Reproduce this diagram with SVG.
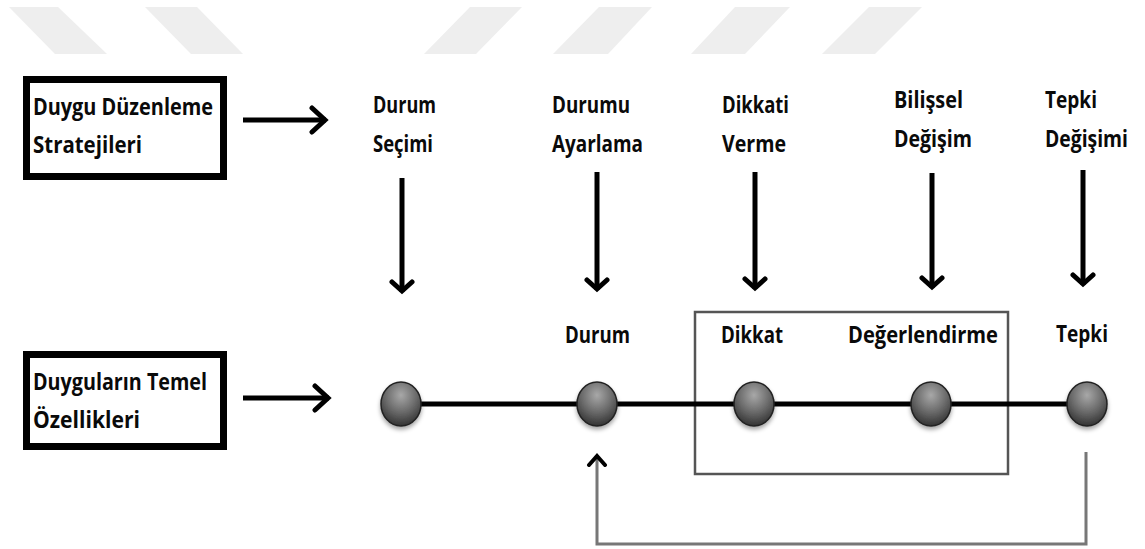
<svg xmlns="http://www.w3.org/2000/svg" width="1145" height="549" viewBox="0 0 1145 549">
<style>
.t{font-family:"Open Sans","Liberation Sans",sans-serif;font-weight:bold;font-size:24px;fill:#0a0a0a}
.wm{fill:#eeeeee}
.box{fill:#fff;stroke:#000;stroke-width:7}
.ar{fill:none;stroke:#000;stroke-width:5}
.fb{fill:none;stroke:#777;stroke-width:3}
.dot{fill:url(#g);stroke:#222;stroke-width:1.5;filter:url(#sh)}
</style>
<defs>
<radialGradient id="g" cx="50%" cy="30%" r="75%">
<stop offset="0" stop-color="#a8a8a8"/>
<stop offset="0.55" stop-color="#666"/>
<stop offset="1" stop-color="#2a2a2a"/>
</radialGradient>
<filter id="sh" x="-30%" y="-30%" width="160%" height="170%">
<feDropShadow dx="0" dy="3" stdDeviation="2" flood-color="#000" flood-opacity="0.35"/>
</filter>
<marker id="mBig" markerUnits="userSpaceOnUse" viewBox="0 0 20 30" refX="17" refY="15" markerWidth="20" markerHeight="30" orient="auto">
<path d="M3,3 L16,15 L3,27" fill="none" stroke="#000" stroke-width="5" stroke-linecap="round"/>
</marker>
<marker id="mMid" markerUnits="userSpaceOnUse" viewBox="0 0 16 26" refX="13" refY="13" markerWidth="16" markerHeight="26" orient="auto">
<path d="M3,3 L12,13 L3,23" fill="none" stroke="#000" stroke-width="5" stroke-linecap="round"/>
</marker>
<marker id="mSm" markerUnits="userSpaceOnUse" viewBox="0 0 14 22" refX="12" refY="11" markerWidth="14" markerHeight="22" orient="auto">
<path d="M2,3 L11,11 L2,19" fill="none" stroke="#000" stroke-width="4" stroke-linecap="round"/>
</marker>
</defs>
<rect width="1145" height="549" fill="#fff"/>
<g id="watermark">
<polygon class="wm" points="9,7 58,7 107,54 55,54"/>
<polygon class="wm" points="145,7 197,7 243,54 191,54"/>
<polygon class="wm" points="470,7 522,7 476,54 424,54"/>
<polygon class="wm" points="599,7 652,7 608,54 553,54"/>
<polygon class="wm" points="735,7 790,7 745,54 691,54"/>
<polygon class="wm" points="869,7 922,7 875,54 822,54"/>
</g>
<g id="stage-box">
<rect x="695" y="312" width="313" height="162" fill="none" stroke="#555" stroke-width="2.5"/>
</g>
<g id="connectors">
<line class="ar" x1="243" y1="120" x2="326" y2="120" marker-end="url(#mBig)"/>
<line class="ar" x1="243" y1="398" x2="329" y2="398" marker-end="url(#mBig)"/>
<line class="ar" x1="402" y1="178" x2="402" y2="292" marker-end="url(#mMid)"/>
<line class="ar" x1="597" y1="172" x2="597" y2="290" marker-end="url(#mMid)"/>
<line class="ar" x1="755" y1="172" x2="755" y2="289" marker-end="url(#mMid)"/>
<line class="ar" x1="932" y1="173" x2="932" y2="288" marker-end="url(#mMid)"/>
<line class="ar" x1="1083" y1="170" x2="1083" y2="285" marker-end="url(#mMid)"/>
<line x1="401" y1="404" x2="1087" y2="404" stroke="#000" stroke-width="5"/>
<path class="fb" d="M1086,452 V544 H597 V455" marker-end="url(#mSm)"/>
</g>
<g id="box-strategies">
<rect class="box" x="26.5" y="79.5" width="197" height="97"/>
<text class="t" x="33" y="115" textLength="180" lengthAdjust="spacingAndGlyphs">Duygu Düzenleme</text>
<text class="t" x="33" y="153" textLength="109" lengthAdjust="spacingAndGlyphs">Stratejileri</text>
</g>
<g id="box-features">
<rect class="box" x="26.5" y="354.5" width="197" height="92"/>
<text class="t" x="33" y="390" textLength="174" lengthAdjust="spacingAndGlyphs">Duyguların Temel</text>
<text class="t" x="33" y="428" textLength="107" lengthAdjust="spacingAndGlyphs">Özellikleri</text>
</g>
<g id="label-durum-secimi">
<text class="t" x="373" y="113" textLength="63" lengthAdjust="spacingAndGlyphs">Durum</text>
<text class="t" x="373" y="152" textLength="60" lengthAdjust="spacingAndGlyphs">Seçimi</text>
</g>
<g id="label-durumu-ayarlama">
<text class="t" x="552" y="113" textLength="78" lengthAdjust="spacingAndGlyphs">Durumu</text>
<text class="t" x="552" y="152" textLength="91" lengthAdjust="spacingAndGlyphs">Ayarlama</text>
</g>
<g id="label-dikkati-verme">
<text class="t" x="722" y="113" textLength="67" lengthAdjust="spacingAndGlyphs">Dikkati</text>
<text class="t" x="722" y="152" textLength="64" lengthAdjust="spacingAndGlyphs">Verme</text>
</g>
<g id="label-bilissel-degisim">
<text class="t" x="894" y="108" textLength="69" lengthAdjust="spacingAndGlyphs">Bilişsel</text>
<text class="t" x="894" y="147" textLength="78" lengthAdjust="spacingAndGlyphs">Değişim</text>
</g>
<g id="label-tepki-degisimi">
<text class="t" x="1045" y="108" textLength="52" lengthAdjust="spacingAndGlyphs">Tepki</text>
<text class="t" x="1045" y="147" textLength="83" lengthAdjust="spacingAndGlyphs">Değişimi</text>
</g>
<g id="node-1">
<ellipse class="dot" cx="401" cy="404" rx="20" ry="22"/>
</g>
<g id="node-durum">
<ellipse class="dot" cx="597" cy="404" rx="20" ry="22"/>
<text class="t" x="565" y="343" textLength="65" lengthAdjust="spacingAndGlyphs">Durum</text>
</g>
<g id="node-dikkat">
<ellipse class="dot" cx="754" cy="404" rx="20" ry="22"/>
<text class="t" x="721" y="343" textLength="62" lengthAdjust="spacingAndGlyphs">Dikkat</text>
</g>
<g id="node-degerlendirme">
<ellipse class="dot" cx="931" cy="404" rx="20" ry="22"/>
<text class="t" x="848" y="343" textLength="150" lengthAdjust="spacingAndGlyphs">Değerlendirme</text>
</g>
<g id="node-tepki">
<ellipse class="dot" cx="1087" cy="404" rx="20" ry="22"/>
<text class="t" x="1056" y="342" textLength="52" lengthAdjust="spacingAndGlyphs">Tepki</text>
</g>
</svg>
